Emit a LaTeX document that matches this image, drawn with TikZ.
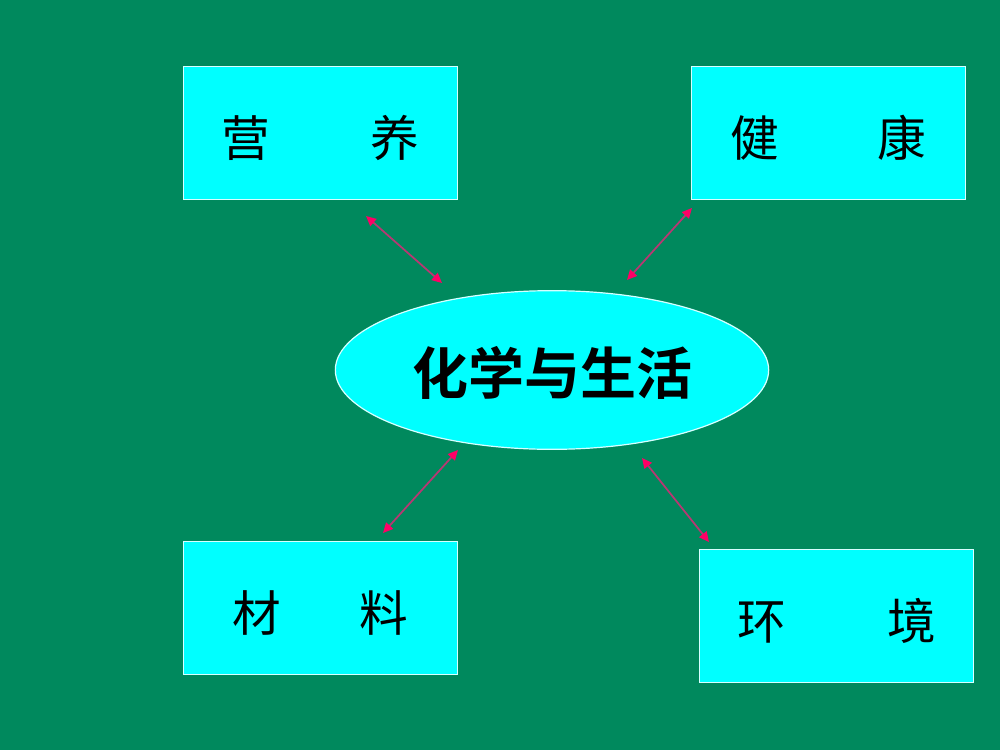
\documentclass[tikz,border=0pt]{standalone}
\usepackage{fontspec}
\newfontfamily\cjk{Noto Sans CJK SC}[BoldFont={Noto Sans CJK SC Bold}]
\usetikzlibrary{arrows.meta,shapes.geometric}
\definecolor{board}{RGB}{0,137,93}
\definecolor{cyanfill}{RGB}{0,255,255}
\definecolor{rim}{RGB}{215,255,255}
\definecolor{pinkline}{RGB}{185,55,115}
\definecolor{pinktip}{RGB}{255,0,102}
\begin{document}
\begin{tikzpicture}[x=0.75pt,y=-0.75pt,font=\cjk,
        topic/.style={rectangle,fill=cyanfill,draw=rim,line width=0.9pt,
          minimum width=206pt,minimum height=100pt,inner sep=0pt,
          text height=36pt,text depth=1.2pt,
          font=\cjk\fontsize{36.5}{40}\selectfont},
        hub/.style={ellipse,fill=cyanfill,draw=rim,line width=0.9pt,
          minimum width=325pt,minimum height=119pt,inner sep=0pt,
          text height=40pt,text depth=3.5pt,
          font=\cjk\bfseries\fontsize{42}{46}\selectfont},
        link/.style={draw=pinkline,line width=1.3pt,
          {Triangle[length=7.5pt,width=7pt,color=pinktip]}-{Triangle[length=7.5pt,width=7pt,color=pinktip]}}]
        \fill[board] (0,0) rectangle (1000,750);
        \useasboundingbox (0,0) rectangle (1000,750);
        % the four topics round the hub
        \node[topic] (ying) at (320.5,133) {营\hspace{75pt}养};
        \node[topic] (jian) at (828.5,133) {健\hspace{74pt}康};
        \node[topic] (cai) at (320.5,608) {材\hspace{59pt}料};
        \node[topic] (huan) at (836.5,616) {环\hspace{76pt}境};
        \node[hub] (life) at (552,370) {化学与生活};
        % arrow ends
        \coordinate (a1) at (366,216); \coordinate (b1) at (442,283);
        \coordinate (a2) at (692,208); \coordinate (b2) at (627,280);
        \coordinate (a3) at (458,450); \coordinate (b3) at (383,533);
        \coordinate (a4) at (642,458); \coordinate (b4) at (709,542);
        \foreach \i in {1,...,4}
          \draw[link] (a\i) -- (b\i);
\end{tikzpicture}
\end{document}
